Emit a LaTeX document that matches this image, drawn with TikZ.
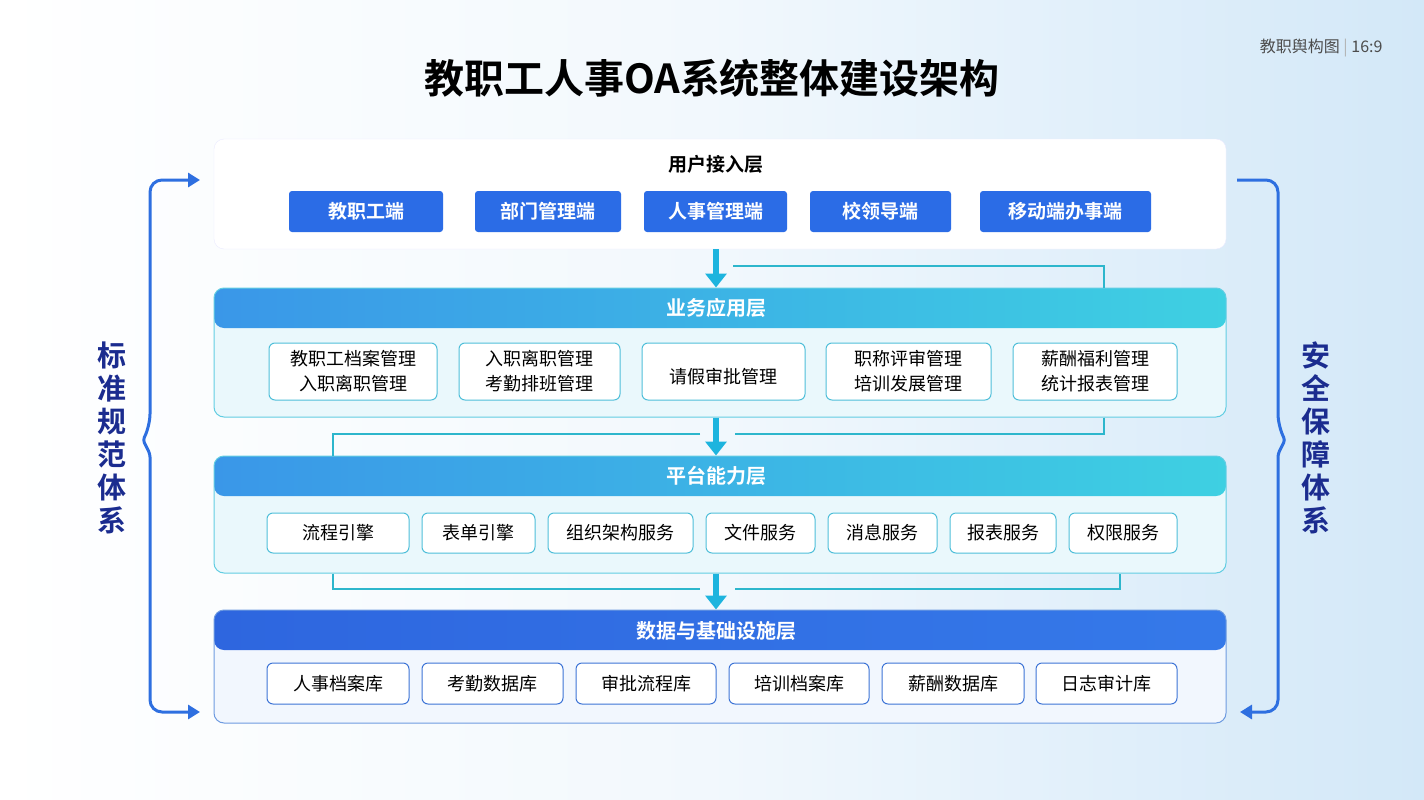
\documentclass[tikz,border=0pt]{standalone}
\usepackage{fontspec}
\setmainfont{Noto Sans CJK SC}[BoldFont={* Bold}]
\usetikzlibrary{arrows.meta}

\definecolor{bgR}{HTML}{D3E8F8}
\definecolor{btnblue}{HTML}{2B6CE6}
\definecolor{flowcyan}{HTML}{1DB4DE}
\definecolor{linkcyan}{HTML}{2DB6CC}
\definecolor{hdA}{HTML}{3A97E8}
\definecolor{hdB}{HTML}{3ED0E2}
\definecolor{dataA}{HTML}{2E66DF}
\definecolor{dataB}{HTML}{3579E9}
\definecolor{bodycyan}{HTML}{EAF8FC}
\definecolor{bdrcyan}{HTML}{62CDE2}
\definecolor{itemcyan}{HTML}{4FBFD9}
\definecolor{bodyblue}{HTML}{F2F7FE}
\definecolor{bdrblue}{HTML}{6E9BE0}
\definecolor{itemblue}{HTML}{3D74D6}
\definecolor{sideblue}{HTML}{2E6FE0}
\definecolor{navy}{HTML}{1B2C8F}

\begin{document}
\begin{tikzpicture}[x=1pt, y=-1pt,
    layer/.style = {rounded corners=10pt, minimum width=1012pt, inner sep=0pt},
    hdshade/.style 2 args = {path picture={\shade[left color=#1, right color=#2]
        (path picture bounding box.north west) rectangle ([yshift=-40pt]path picture bounding box.north east);}},
    hdtext/.style = {text=white, font=\fontsize{20}{24}\selectfont\bfseries},
    btn/.style = {fill=btnblue, rounded corners=3pt, minimum height=41pt, inner sep=0pt,
        text=white, font=\fontsize{19}{23}\selectfont\bfseries},
    item/.style = {draw=itemcyan, line width=1pt, fill=white, rounded corners=6pt, inner sep=0pt,
        align=center, font=\fontsize{18}{25}\selectfont},
    ditem/.style = {item, draw=itemblue, minimum height=41pt},
    flow/.style = {draw=flowcyan, line width=6pt, -{Triangle[width=21pt, length=14pt]}},
    link/.style = {draw=linkcyan, line width=2.6pt},
    side/.style = {draw=sideblue, line width=3pt},
    sidetext/.style = {text=navy, align=center, font=\fontsize{29}{33}\selectfont\bfseries}]

% background
\shade[left color=white, right color=bgR, middle color=white!70!bgR] (0,0) rectangle (1424,800);
\useasboundingbox (0,0) rectangle (1424,800);

% title and corner note
\node[font=\fontsize{40}{46}\selectfont\bfseries] (title) at (712,78) {教职工人事OA系统整体建设架构};
\node[anchor=east, text=black!70, font=\fontsize{16}{19}\selectfont] (note) at (1386,48)
    {教职舆构图 {\color{black!30}|} 16:9};

% user layer
\node[layer, fill=white, draw=blue!8, minimum height=110pt] (user) at (720,194) {};
\node[font=\fontsize{19}{23}\selectfont\bfseries] (userT) at (716,164) {用户接入层};
\node[btn, minimum width=154pt] (u1) at (366,211.5) {教职工端};
\node[btn, minimum width=146pt] (u2) at (548,211.5) {部门管理端};
\node[btn, minimum width=143pt] (u3) at (715.5,211.5) {人事管理端};
\node[btn, minimum width=141pt] (u4) at (880.5,211.5) {校领导端};
\node[btn, minimum width=171pt] (u5) at (1065.5,211.5) {移动端办事端};

% business layer
\node[layer, fill=bodycyan, draw=bdrcyan, line width=1pt, minimum height=129pt,
    hdshade={hdA}{hdB}] (biz) at (720,352.5) {};
\node[hdtext] (bizT) at (716,308) {业务应用层};
\node[item, minimum width=168pt, minimum height=57pt] (b1) at (353,371.5) {教职工档案管理\\入职离职管理};
\node[item, minimum width=161pt, minimum height=57pt] (b2) at (539.5,371.5) {入职离职管理\\考勤排班管理};
\node[item, minimum width=163pt, minimum height=57pt] (b3) at (723.5,371.5) {~\\请假审批管理};
\node[item, minimum width=165pt, minimum height=57pt] (b4) at (908.5,371.5) {职称评审管理\\培训发展管理};
\node[item, minimum width=164pt, minimum height=57pt] (b5) at (1095,371.5) {薪酬福利管理\\统计报表管理};

% platform layer
\node[layer, fill=bodycyan, draw=bdrcyan, line width=1pt, minimum height=117pt,
    hdshade={hdA}{hdB}] (plat) at (720,514.5) {};
\node[hdtext] (platT) at (716,476) {平台能力层};
\node[item, minimum width=142pt, minimum height=40pt] (p1) at (338,533) {流程引擎};
\node[item, minimum width=113pt, minimum height=40pt] (p2) at (478.5,533) {表单引擎};
\node[item, minimum width=145pt, minimum height=40pt] (p3) at (620.5,533) {组织架构服务};
\node[item, minimum width=109pt, minimum height=40pt] (p4) at (760.5,533) {文件服务};
\node[item, minimum width=109pt, minimum height=40pt] (p5) at (882.5,533) {消息服务};
\node[item, minimum width=106pt, minimum height=40pt] (p6) at (1003,533) {报表服务};
\node[item, minimum width=108pt, minimum height=40pt] (p7) at (1123,533) {权限服务};

% data layer
\node[layer, fill=bodyblue, draw=bdrblue, line width=1pt, minimum height=113pt,
    hdshade={dataA}{dataB}] (data) at (720,666.5) {};
\node[hdtext] (dataT) at (716,631) {数据与基础设施层};
\node[ditem, minimum width=142pt] (d1) at (338,683.5) {人事档案库};
\node[ditem, minimum width=141pt] (d2) at (492.5,683.5) {考勤数据库};
\node[ditem, minimum width=140pt] (d3) at (646,683.5) {审批流程库};
\node[ditem, minimum width=140pt] (d4) at (799,683.5) {培训档案库};
\node[ditem, minimum width=142pt] (d5) at (953,683.5) {薪酬数据库};
\node[ditem, minimum width=141pt] (d6) at (1106.5,683.5) {日志审计库};

% flow between layers
\draw[flow] ([xshift=-4pt]user.south) -- ([xshift=-4pt]biz.north);
\draw[flow] ([xshift=-4pt]biz.south) -- ([xshift=-4pt]plat.north);
\draw[flow] ([xshift=-4pt]plat.south) -- ([xshift=-4pt]data.north);

\coordinate (c1) at (733,266);
\coordinate (c2) at (735,434);
\coordinate (c3) at (700,434);
\coordinate (c4) at (700,589);
\coordinate (c5) at (735,589);
\draw[link] (c1) -| ([xshift=384pt]biz.north);
\draw[link] ([xshift=384pt]biz.south) |- (c2);
\draw[link] (c3) -| ([xshift=-387pt]plat.north);
\draw[link] ([xshift=-387pt]plat.south) |- (c4);
\draw[link] (c5) -| ([xshift=400pt]plat.south);

% side systems
\coordinate (lt) at (200,180);
\coordinate (lb) at (200,712);
\coordinate (rt) at (1237,180);
\coordinate (rb) at (1240,712);
\draw[side, {Triangle[width=14pt, length=12pt]}-{Triangle[width=14pt, length=12pt]}]
    (lt) [rounded corners=12pt] -- (150,180) -- (150,426)
    [rounded corners=3pt] -- (143,440) -- (150,454)
    [rounded corners=12pt] -- (150,712) -- (lb);
\draw[side, -{Triangle[width=14pt, length=12pt]}]
    (rt) [rounded corners=12pt] -- (1278,180) -- (1278,426)
    [rounded corners=3pt] -- (1285,440) -- (1278,454)
    [rounded corners=12pt] -- (1278,712) -- (rb);
\node[sidetext] (std) at (112,438) {标\\准\\规\\范\\体\\系};
\node[sidetext] (sec) at (1316,438) {安\\全\\保\\障\\体\\系};
\end{tikzpicture}
\end{document}
